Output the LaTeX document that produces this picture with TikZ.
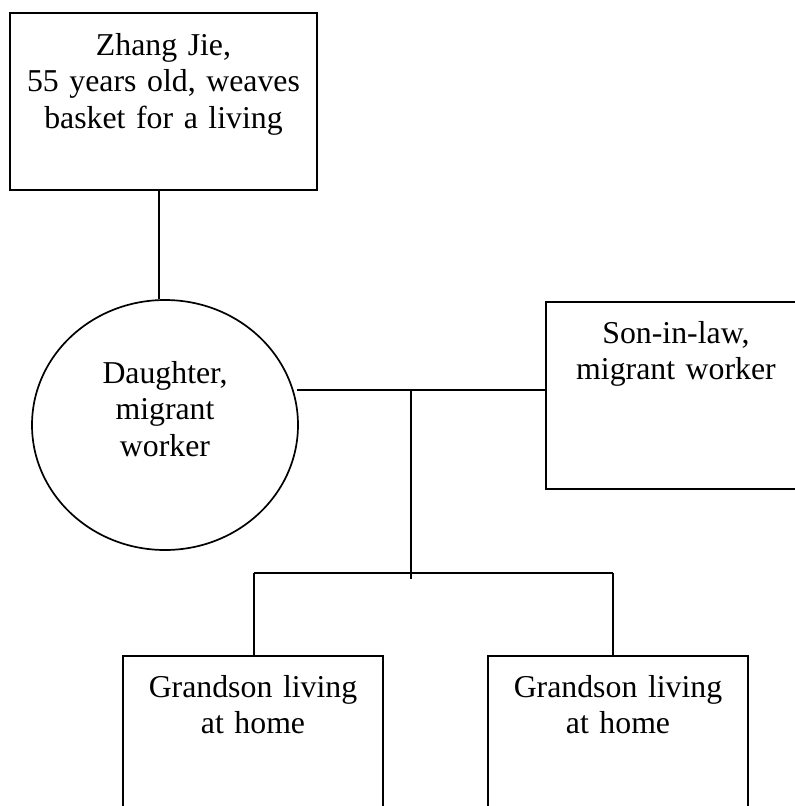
\documentclass[tikz,border=0pt]{standalone}
\usepackage{fontspec}
\setmainfont{Liberation Serif}
\usetikzlibrary{shapes.geometric}

\tikzset{
  member/.style={draw, line width=1.7pt, rectangle, inner sep=0pt},
  daughterstyle/.style={draw, line width=1.7pt, ellipse, inner sep=0pt},
  txt/.style={inner sep=0pt, align=center, anchor=base,
    font=\fontsize{31.8}{36.5}\selectfont},
  link/.style={line width=1.7pt}
}

\begin{document}
\begin{tikzpicture}[x=1pt, y=-1pt]
  \useasboundingbox (0,0) rectangle (795,806);
  \clip (0,0) rectangle (795,806);

  % family members
  \node[member, minimum width=307pt, minimum height=177pt] (zhang) at (163.5,101.5) {};
  \node[daughterstyle, minimum width=266pt, minimum height=250pt] (daughter) at (165,425) {};
  \node[member, minimum width=260pt, minimum height=187pt] (son) at (676,395.5) {};
  \node[member, minimum width=260pt, minimum height=200pt] (g1) at (253,756) {};
  \node[member, minimum width=260pt, minimum height=200pt] (g2) at (618,756) {};

  % labels
  \node[txt, text width=300pt] (zhangtxt) at (163.5,55) {Zhang Jie,\\55 years old, weaves\\basket for a living};
  \node[txt, text width=220pt] (daughtertxt) at (165,383) {Daughter,\\migrant\\worker};
  \node[txt, text width=250pt] (sontxt) at (676,343) {Son-in-law,\\migrant worker};
  \node[txt, text width=250pt] (g1txt) at (253,697) {Grandson living\\at home};
  \node[txt, text width=250pt] (g2txt) at (618,697) {Grandson living\\at home};

  % connectors
  \coordinate (zj) at (159,190);
  \coordinate (hub) at (411,390);
  \coordinate (drop) at (411,579);
  \coordinate (bl) at (254,573);
  \coordinate (br) at (613,573);

  \draw[link] (zj) -- (zj |- daughter.north);
  \draw[link] ([xshift=-2pt]daughter.east |- hub) -- (hub -| son.west);
  \draw[link] (hub) -- (drop);
  \draw[link] (bl) -- (br);
  \draw[link] (bl) -- (bl |- g1.north);
  \draw[link] (br) -- (br |- g2.north);
\end{tikzpicture}
\end{document}
